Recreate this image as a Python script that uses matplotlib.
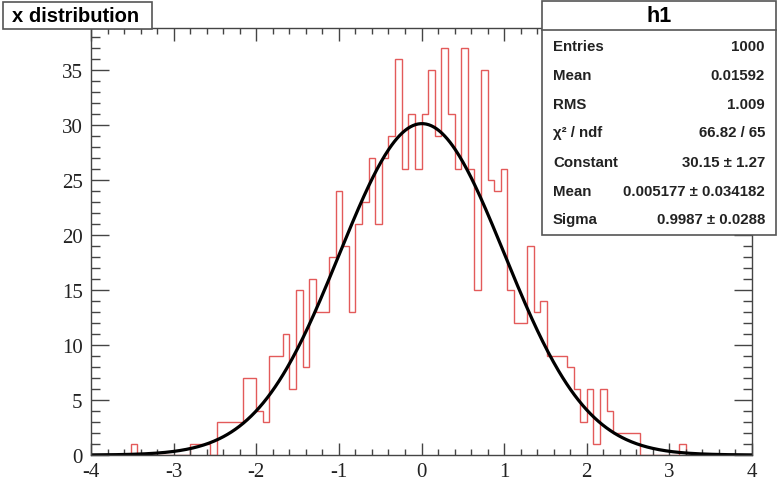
import numpy as np
import matplotlib.pyplot as plt
from matplotlib.patches import Rectangle
from matplotlib.ticker import MultipleLocator

plt.rcParams['axes.unicode_minus'] = False

# histogram h1: 100 bins between -4 and 4
bin_edges = np.linspace(-4, 4, 101)
counts = [0, 0, 0, 0, 0, 0, 1, 0, 0, 0,
          0, 0, 0, 0, 0, 1, 1, 1, 0, 3,
          3, 3, 3, 7, 7, 4, 3, 9, 9, 11,
          6, 15, 8, 16, 13, 13, 18, 24, 19, 13,
          21, 23, 27, 21, 27, 29, 36, 26, 31, 26,
          31, 35, 29, 37, 31, 26, 37, 26, 15, 35,
          25, 24, 26, 15, 12, 12, 19, 13, 14, 9,
          9, 9, 8, 6, 3, 6, 1, 6, 4, 2,
          2, 2, 2, 0, 0, 0, 0, 0, 0, 1,
          0, 0, 0, 0, 0, 0, 0, 0, 0, 0]

# gaus fit result
fit_constant = 30.15
fit_mean = 0.005177
fit_sigma = 0.9987

stat_labels = ["Entries", "Mean", "RMS", "χ² / ndf", "Constant", "Mean", "Sigma"]
stat_values = ["1000", "0.01592", "1.009", "66.82 / 65",
               "30.15 ± 1.27", "0.005177 ± 0.034182", "0.9987 ± 0.0288"]

W, H = 778, 481
fig = plt.figure(figsize=(W / 100, H / 100), dpi=100)
fig.patch.set_facecolor('white')

def fx(px):
    return px / W

def fy(py):
    return 1 - py / H

ax = fig.add_axes([fx(91), fy(456), fx(752) - fx(91), fy(29) - fy(456)])

ax.stairs(counts, bin_edges, color='#e35a5a', lw=1.0)

xs = np.linspace(-4, 4, 500)
ax.plot(xs, fit_constant * np.exp(-0.5 * ((xs - fit_mean) / fit_sigma) ** 2),
        color='black', lw=2.3)

ax.set_xlim(-4, 4)
ax.set_ylim(0, 1.05 * max(counts))

ax.xaxis.set_major_locator(MultipleLocator(1))
ax.xaxis.set_minor_locator(MultipleLocator(0.2))
ax.yaxis.set_major_locator(MultipleLocator(5))
ax.yaxis.set_minor_locator(MultipleLocator(1))
ax.tick_params(axis='both', which='both', direction='in', top=True, right=True,
               color='#444444', width=1)
ax.tick_params(axis='x', which='major', length=9, pad=5)
ax.tick_params(axis='x', which='minor', length=4.5)
ax.tick_params(axis='y', which='major', length=13, pad=6)
ax.tick_params(axis='y', which='minor', length=6.5)
for lab in ax.get_xticklabels() + ax.get_yticklabels():
    lab.set_fontfamily('Liberation Serif')
    lab.set_fontsize(15)
    lab.set_color('#222222')
for sp in ax.spines.values():
    sp.set_color('#444444')
    sp.set_linewidth(1)

# title box
fig.patches.append(Rectangle((fx(3), fy(30)), fx(152) - fx(3), fy(3) - fy(30),
                             transform=fig.transFigure, facecolor='white',
                             edgecolor='#555555', lw=1.2, zorder=5))
fig.text(fx(76), fy(16), "x distribution", ha='center', va='center',
         family='Liberation Sans', weight='bold', fontsize=14.5, zorder=6)

# statistics box
fig.patches.append(Rectangle((fx(542), fy(236)), fx(776) - fx(542), fy(2) - fy(236),
                             transform=fig.transFigure, facecolor='white',
                             edgecolor='#555555', lw=1.2, zorder=5))
fig.add_artist(plt.Line2D([fx(542), fx(776)], [fy(31), fy(31)],
                          transform=fig.transFigure, color='#555555', lw=1.2, zorder=6))
fig.text(fx(659), fy(17), "h1", ha='center', va='center',
         family='Liberation Sans', weight='bold', fontsize=15.5, zorder=6)
row_y = [47, 76, 105, 133, 163, 192, 220]
for lbl, val, py in zip(stat_labels, stat_values, row_y):
    fig.text(fx(553), fy(py), lbl, ha='left', va='center',
             family='Liberation Sans', weight='bold', fontsize=10.8, color='#222222', zorder=6)
    fig.text(fx(765), fy(py), val, ha='right', va='center',
             family='Liberation Sans', weight='bold', fontsize=10.8, color='#222222', zorder=6)

fig.savefig('out.png', dpi=100)
